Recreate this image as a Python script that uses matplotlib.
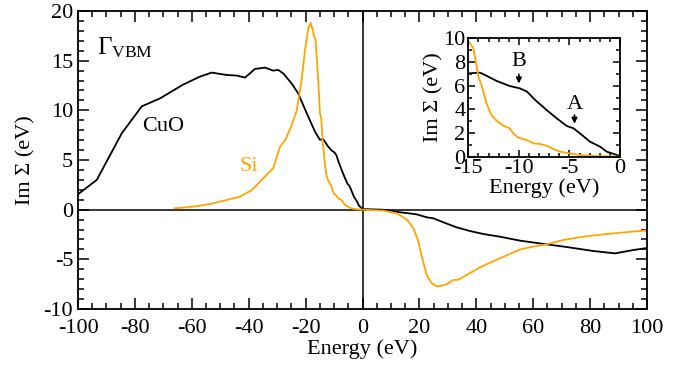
import numpy as np
import matplotlib
matplotlib.use('Agg')
import matplotlib.pyplot as plt
from matplotlib.ticker import MultipleLocator

plt.rcParams['font.family'] = ['Liberation Serif', 'DejaVu Serif']
plt.rcParams['mathtext.fontset'] = 'custom'
plt.rcParams['mathtext.rm'] = 'Liberation Serif'
plt.rcParams['mathtext.it'] = 'Liberation Serif:italic'
plt.rcParams['axes.unicode_minus'] = False

# CuO, Im Sigma (eV) vs energy (eV)
cuo_e = [-100, -93.4, -84.6, -77.6, -71.2, -63, -57.1, -53, -47.7, -44.2, -41.3,
         -37.8, -34.3, -31.4, -29.6, -27.8, -24.9, -22.6, -19.6, -16.7,
         -15, -13.85, -13.35, -12.2, -10.9, -9.9, -9.2, -8.4, -7.25, -6.26,
         -5.27, -4.6, -3.96, -2.97, -1.98, -1.3, 0,
         7, 13.2, 19.0, 22.6, 24.9, 28.4, 33.1, 37.8, 42.5, 48.3, 55.4, 64.7,
         71.8, 81.1, 88.8, 95.2, 100]
cuo_v = [1.55, 3.0, 7.7, 10.4, 11.2, 12.6, 13.4, 13.8, 13.56, 13.5, 13.3,
         14.17, 14.3, 14.0, 14.07, 13.7, 12.7, 11.7, 9.7, 7.85,
         7.04, 7.1, 6.9, 6.4, 5.97, 5.77, 5.5, 4.8, 3.94, 3.24,
         2.6, 2.4, 1.97, 1.27, 0.85, 0.42, 0.06,
         0.0, -0.26, -0.47, -0.77, -0.87, -1.27, -1.78, -2.15, -2.45, -2.72,
         -3.12, -3.49, -3.76, -4.16, -4.4, -4.06, -3.86]

# Si
si_e = [-65.9, -59.5, -53.6, -47.7, -43.1, -38.9, -34.9, -31.4, -29.0, -27.2,
        -24.9, -23.1, -21.4, -20.2, -19.05, -18.2, -17.5, -17.0, -16.5, -15.5,
        -15, -14.5, -14.0, -13.7, -13.2, -12.7, -12.2, -11.5, -10.9, -10.55,
        -10.05, -9.4, -9.2, -8.57, -7.9, -7.25, -6.6, -5.9, -4.95, -3.96,
        -2.6, 0,
        7.3, 12.0, 15.5, 17.9, 19.6, 20.8, 22.6, 24.3, 26.3, 29.6, 31.9, 33.7,
        36.6, 40.7, 43.7, 48.3, 55.4, 60.0, 64.7, 70.6, 77.6, 85.8, 95.2, 100]
si_v = [0.14, 0.3, 0.57, 0.98, 1.31, 1.98, 3.16, 4.17, 6.34, 7.0,
        8.5, 10.0, 13.06, 16.1, 18.27, 18.8, 18.1, 17.4, 17.15, 12.7,
        9.8, 9.15, 6.76, 6.06, 4.5, 3.5, 3.04, 2.6, 2.4, 1.97,
        1.6, 1.46, 1.4, 1.13, 1.07, 0.93, 0.65, 0.42, 0.28, 0.14,
        0.06, 0.0,
        -0.1, -0.36, -0.97, -1.87, -3.2, -4.7, -6.6, -7.4, -7.75, -7.5, -7.08, -7.05,
        -6.58, -5.9, -5.47, -4.9, -4.0, -3.72, -3.49, -3.05, -2.72, -2.45, -2.2, -2.1]

orange = '#ffa500'
fig = plt.figure(figsize=(6.82, 3.67), dpi=100)
ax = fig.add_axes([0.1144, 0.158, 0.8343, 0.812])

ax.axhline(0, color='black', lw=1.1)
ax.axvline(0, color='black', lw=1.1)
ax.plot(cuo_e, cuo_v, color='black', lw=1.3)
ax.plot(si_e, si_v, color=orange, lw=1.3)

ax.set_xlim(-100, 100)
ax.set_ylim(-10, 20)
ax.xaxis.set_major_locator(MultipleLocator(20))
ax.xaxis.set_minor_locator(MultipleLocator(5))
ax.yaxis.set_major_locator(MultipleLocator(5))
ax.yaxis.set_minor_locator(MultipleLocator(1))
ax.tick_params(which='both', direction='in', top=True, right=True, labelsize=16, width=1.1)
ax.tick_params(axis='x', pad=7)
ax.tick_params(which='major', length=8)
ax.tick_params(which='minor', length=4)
for s in ax.spines.values():
    s.set_linewidth(1.3)
ax.set_xlabel('Energy (eV)', fontsize=16, labelpad=1)
ax.set_ylabel('Im Σ (eV)', fontsize=16, labelpad=6)

ax.text(-93.5, 16.3, r'$\Gamma_{\mathrm{VBM}}$', fontsize=18, va='center')
ax.text(-70, 8.4, 'CuO', fontsize=16, ha='center', va='center')
ax.text(-40, 4.3, 'Si', fontsize=16, ha='center', va='center', color=orange)

# inset
ins = fig.add_axes([0.6867, 0.573, 0.2224, 0.3226])
ins.plot(cuo_e, cuo_v, color='black', lw=1.3)
ins.plot(si_e, si_v, color=orange, lw=1.3)
ins.set_xlim(-15, 0)
ins.set_ylim(0, 10)
ins.xaxis.set_major_locator(MultipleLocator(5))
ins.xaxis.set_minor_locator(MultipleLocator(1))
ins.yaxis.set_major_locator(MultipleLocator(2))
ins.yaxis.set_minor_locator(MultipleLocator(1))
ins.tick_params(which='both', direction='in', top=True, right=True, labelsize=16, width=1.1, pad=2)
ins.tick_params(which='major', length=5)
ins.tick_params(which='minor', length=3)
for s in ins.spines.values():
    s.set_linewidth(1.3)
ins.set_xlabel('Energy (eV)', fontsize=16, labelpad=0)
ins.set_ylabel('Im Σ (eV)', fontsize=16, labelpad=0)

arrow = dict(arrowstyle='-|>', color='black', lw=1.2, mutation_scale=8)
ins.annotate('', xy=(-10.0, 5.95), xytext=(-10.0, 7.2), arrowprops=arrow)
ins.text(-10.0, 8.0, 'B', fontsize=16, ha='center', va='center')
ins.annotate('', xy=(-4.5, 2.55), xytext=(-4.5, 3.75), arrowprops=arrow)
ins.text(-4.5, 4.4, 'A', fontsize=16, ha='center', va='center')

fig.savefig('out.png', dpi=100)
